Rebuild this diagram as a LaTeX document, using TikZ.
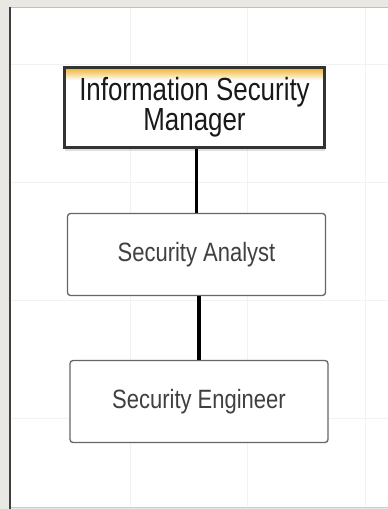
\documentclass[tikz,border=0pt]{standalone}
\usepackage{fontspec}
\setmainfont{Liberation Sans}
\newfontfamily\topfont[FakeStretch=0.81]{Liberation Sans}
\newfontfamily\boxfont[FakeStretch=0.83]{Liberation Sans}
\usetikzlibrary{shadows}
\definecolor{bggrey}{HTML}{E9E8E3}
\definecolor{gridc}{HTML}{F2F2F2}
\definecolor{goldc}{HTML}{EFB52E}
\tikzset{
  mgrbox/.style={draw=black!80, line width=3pt, fill=white, minimum width=260pt, minimum height=80pt,
    inner sep=0pt, align=center, text=black!90,
    font=\topfont\fontsize{32}{28}\selectfont,
    drop shadow={shadow xshift=0pt, shadow yshift=-3pt, opacity=0.25},
    path picture={\foreach \k in {0,...,11}{
      \pgfmathsetmacro{\op}{1-\k/12}
      \fill[goldc, opacity=\op]
      ([yshift=-\k pt]path picture bounding box.north west) rectangle ([yshift=-\k pt-1.05pt]path picture bounding box.north east);}}},
  rolebox/.style={draw=black!60, line width=1.3pt, fill=white, rounded corners=3pt,
    minimum width=258pt, minimum height=82pt, inner sep=0pt, text=black!75,
    font=\boxfont\fontsize{26.5}{28}\selectfont},
  link/.style={draw=black, line width=3.5pt}
}
\begin{document}
\begin{tikzpicture}[x=1pt,y=-1pt]
\useasboundingbox (0,0) rectangle (388,509);
\fill[bggrey] (0,0) rectangle (388,509);
\fill[white] (10,7) rectangle (390,507);
\foreach \gx in {130,247,365} \draw[gridc, line width=0.8pt] (\gx,8) -- (\gx,506);
\foreach \gy in {64,182,300,418} \draw[gridc, line width=0.8pt] (11,\gy) -- (390,\gy);
\draw[black!25, line width=0.8pt] (10,7) -- (390,7);
\draw[black!20, line width=0.8pt] (10,507) -- (390,507);
\draw[black!75, line width=1.8pt] (10,7) -- (10,509);
\node[mgrbox] (mgr) at (194.5,107.5) {Information Security\\Manager};
\node[rolebox] (an) at (196.5,254.5) {Security Analyst};
\node[rolebox] (en) at (199,401.5) {Security Engineer};
\draw[link] (an.north |- mgr.south) -- (an.north);
\draw[link] (an.south -| en.north) -- (en.north);
\end{tikzpicture}
\end{document}
